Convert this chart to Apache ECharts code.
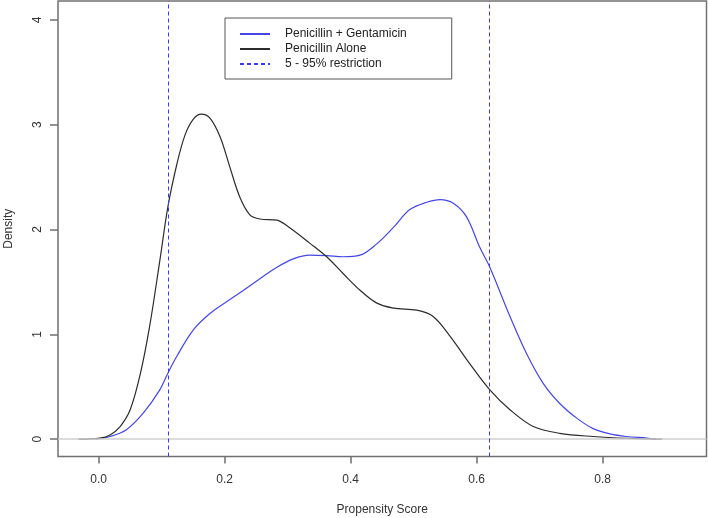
<!DOCTYPE html>
<html>
<head>
<meta charset="utf-8">
<script src="https://cdn.jsdelivr.net/npm/echarts@6/dist/echarts.min.js"></script>
<style>
html,body{margin:0;padding:0;background:#fff;}
#chart{width:708px;height:518px;}
</style>
</head>
<body>
<div id="chart"></div>
<script>
// Data
const seriesNames = ['Penicillin + Gentamicin', 'Penicillin Alone', '5 - 95% restriction'];

const comboX = [-0.005, 0.018, 0.044, 0.071, 0.097, 0.110, 0.124, 0.150, 0.177, 0.203, 0.230, 0.256, 0.283, 0.309, 0.335, 0.362, 0.388, 0.415, 0.441, 0.468, 0.494, 0.521, 0.542, 0.563, 0.584, 0.605, 0.621, 0.653, 0.679, 0.706, 0.732, 0.759, 0.785, 0.812, 0.838, 0.870, 0.885];
const comboY = [0, 0.025, 0.09, 0.25, 0.47, 0.63, 0.79, 1.04, 1.20, 1.31, 1.42, 1.53, 1.64, 1.72, 1.755, 1.75, 1.74, 1.755, 1.86, 2.02, 2.19, 2.26, 2.285, 2.25, 2.12, 1.83, 1.64, 1.17, 0.82, 0.53, 0.34, 0.20, 0.10, 0.05, 0.025, 0.01, 0];

const aloneX = [-0.032, 0.002, 0.018, 0.034, 0.050, 0.066, 0.081, 0.097, 0.110, 0.124, 0.137, 0.150, 0.163, 0.177, 0.193, 0.208, 0.224, 0.240, 0.256, 0.283, 0.300, 0.335, 0.362, 0.388, 0.415, 0.441, 0.468, 0.505, 0.531, 0.558, 0.589, 0.621, 0.653, 0.690, 0.732, 0.785, 0.838, 0.894];
const aloneY = [0, 0.01, 0.04, 0.12, 0.28, 0.62, 1.08, 1.70, 2.22, 2.62, 2.90, 3.05, 3.10, 3.06, 2.88, 2.60, 2.31, 2.14, 2.10, 2.09, 2.03, 1.87, 1.74, 1.58, 1.42, 1.30, 1.25, 1.23, 1.17, 0.98, 0.72, 0.47, 0.28, 0.12, 0.055, 0.025, 0.008, 0];

const restrictionCuts = [0.110, 0.6217];
const xTicks = [0, 0.2, 0.4, 0.6, 0.8];
const yTicks = [0, 1, 2, 3, 4];

const pair = (xs, ys) => xs.map((x, i) => [x, ys[i]]);

const FONT = "'Liberation Sans', Arial, sans-serif";
const BLUE = '#4646e4';
const DASH_BLUE = '#3a3af4';
const BLACK = '#2c2c2c';
const AXIS = '#707070';

const chart = echarts.init(document.getElementById('chart'), null, {renderer: 'canvas'});
chart.setOption({
  animation: false,
  backgroundColor: '#fff',
  textStyle: {fontFamily: FONT, color: '#333'},
  grid: {
    left: 58, right: 1.5, top: 1, bottom: 61.5,
    containLabel: false,
    outerBoundsMode: 'none',
    show: true, borderColor: AXIS, borderWidth: 1.5, backgroundColor: 'transparent'
  },
  legend: {
    data: seriesNames,
    orient: 'vertical',
    left: 225, top: 18,
    padding: [10, 45, 9, 14],
    itemGap: 3,
    itemWidth: 30, itemHeight: 14,
    borderColor: '#555', borderWidth: 1,
    backgroundColor: '#fff',
    selectedMode: false,
    itemStyle: {opacity: 0, borderWidth: 0},
    textStyle: {fontFamily: FONT, fontSize: 12, color: '#222', padding: [0, 0, 0, 10]}
  },
  xAxis: {
    type: 'value',
    min: -0.0646, max: 0.965,
    name: 'Propensity Score',
    nameLocation: 'middle', nameGap: 47,
    nameTextStyle: {fontFamily: FONT, fontSize: 12, color: '#333'},
    axisLine: {show: false, onZero: false},
    axisTick: {show: true, length: 7, lineStyle: {color: AXIS, width: 1.5}, customValues: xTicks},
    axisLabel: {fontFamily: FONT, fontSize: 12, color: '#333', margin: 17, customValues: xTicks,
      formatter: v => v.toFixed(1)},
    splitLine: {show: false}
  },
  yAxis: {
    type: 'value',
    min: -0.166, max: 4.18,
    name: 'Density',
    nameLocation: 'middle', nameGap: 43, nameRotate: 90,
    nameTextStyle: {fontFamily: FONT, fontSize: 12, color: '#333'},
    axisLine: {show: false, onZero: false},
    axisTick: {show: true, length: 8, lineStyle: {color: AXIS, width: 1.5}, customValues: yTicks},
    axisLabel: {fontFamily: FONT, fontSize: 12, color: '#333', margin: 14, rotate: 90, customValues: yTicks,
      formatter: v => String(v)},
    splitLine: {show: false}
  },
  series: [
    {
      name: 'zero',
      type: 'line',
      data: [],
      silent: true,
      markLine: {
        silent: true, symbol: 'none', label: {show: false},
        lineStyle: {color: '#cfcfcf', width: 1.5, type: 'solid'},
        data: [{yAxis: 0}]
      }
    },
    {
      name: seriesNames[0],
      type: 'line',
      data: pair(comboX, comboY),
      symbol: 'none',
      smooth: 0.35,
      color: BLUE,
      lineStyle: {color: BLUE, width: 1.2}
    },
    {
      name: seriesNames[1],
      type: 'line',
      data: pair(aloneX, aloneY),
      symbol: 'none',
      smooth: 0.35,
      color: BLACK,
      lineStyle: {color: BLACK, width: 1.2}
    },
    {
      name: seriesNames[2],
      type: 'line',
      data: [],
      symbol: 'none',
      color: DASH_BLUE,
      lineStyle: {color: DASH_BLUE, width: 1.5, type: [4, 3]},
      markLine: {
        silent: true, symbol: 'none', label: {show: false},
        lineStyle: {color: DASH_BLUE, width: 1, type: [4, 3]},
        data: restrictionCuts.map(v => ({xAxis: v}))
      }
    }
  ]
});
</script>
</body>
</html>
